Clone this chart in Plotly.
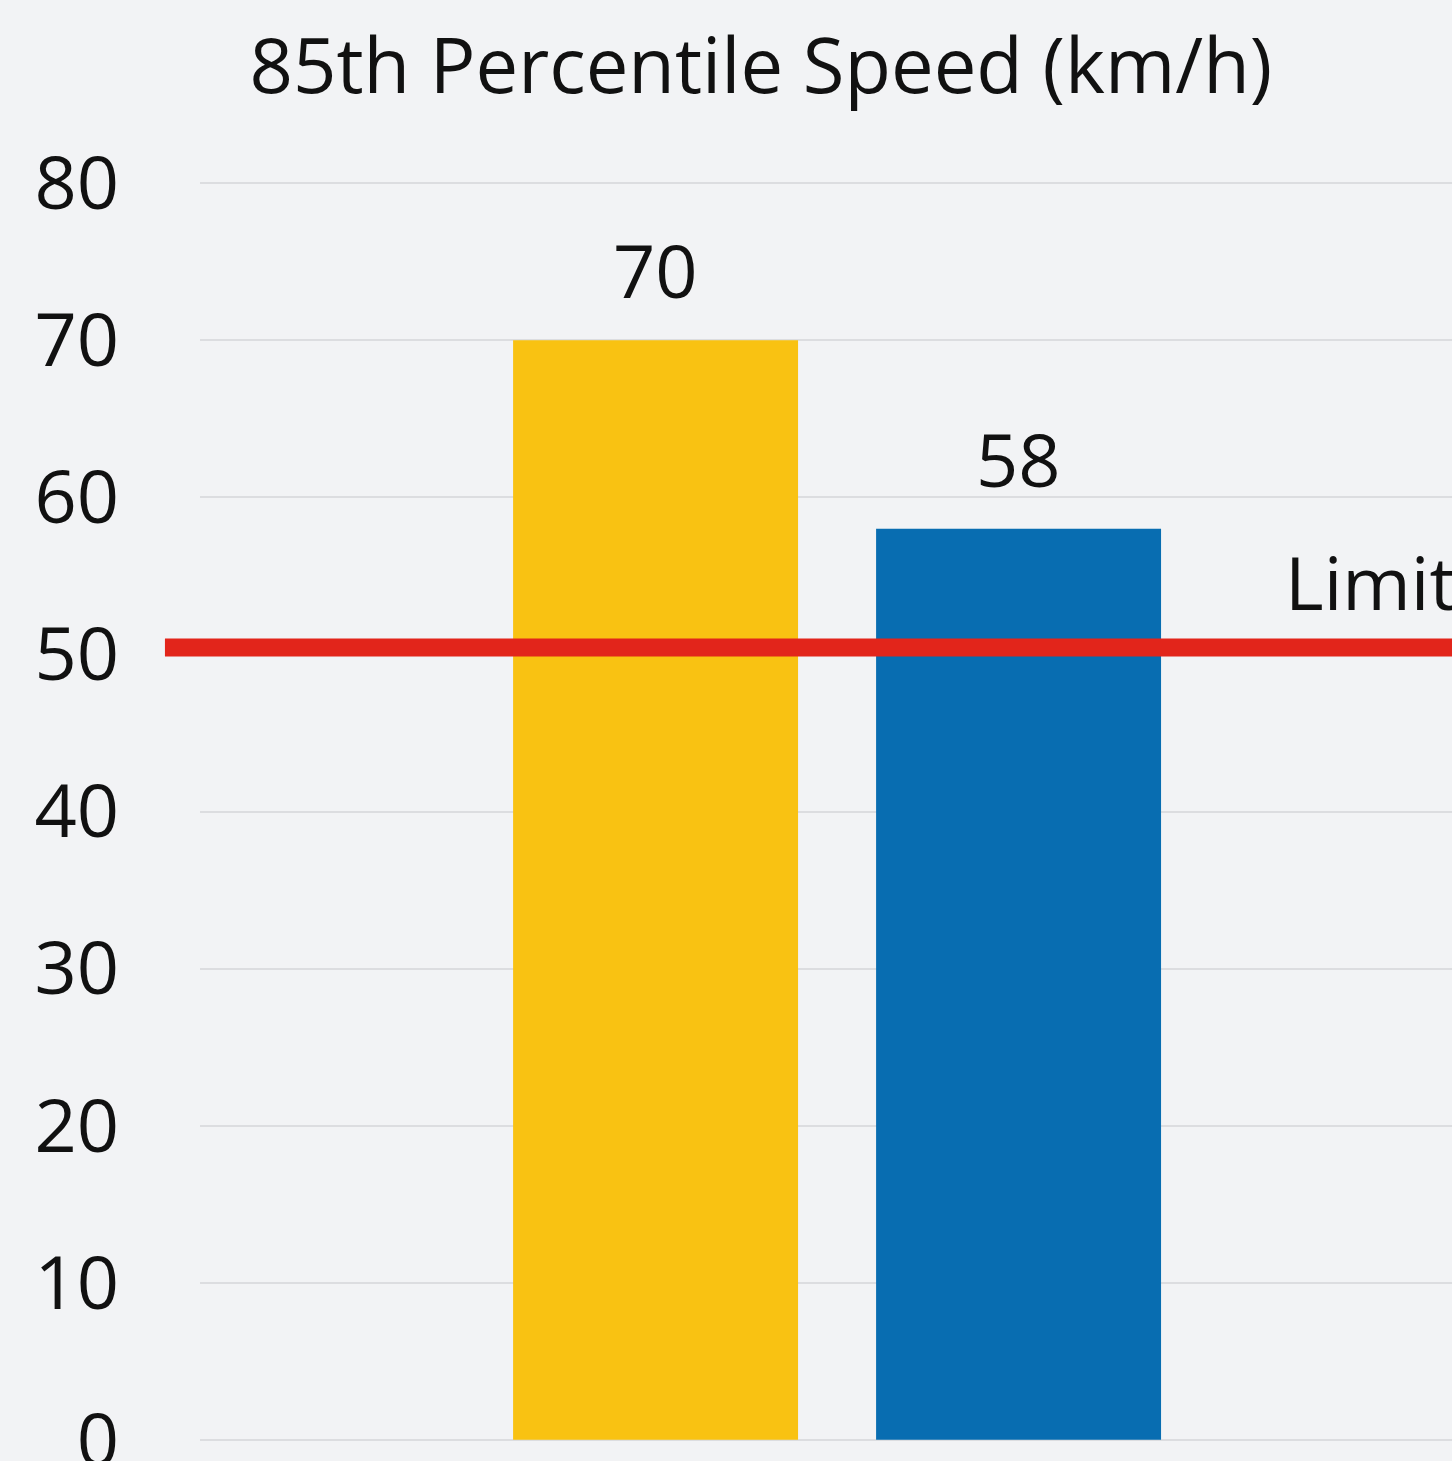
import plotly.graph_objects as go

# Chart data
categories = ["Before", "After"]
speeds = [70, 58]
bar_colors = ["#F9C212", "#086DB1"]
speed_limit = 50
limit_label = "Limit"
title_text = "85th Percentile Speed (km/h)"
y_ticks = [0, 10, 20, 30, 40, 50, 60, 70, 80]

FONT = "Open Sans"
BG = "#F2F3F5"
TEXT = "#111111"

fig = go.Figure()
fig.add_trace(go.Bar(
    x=categories,
    y=speeds,
    marker=dict(color=bar_colors, line=dict(width=0)),
    showlegend=False,
    hoverinfo="skip",
))

# Value labels above the bars
for cat, val in zip(categories, speeds):
    fig.add_annotation(
        x=cat, y=val, text=str(val), showarrow=False,
        yanchor="bottom", yshift=18,
        font=dict(family=FONT, size=74, color=TEXT),
    )

# Speed limit reference band (thick red rule anchored at the limit value)
fig.add_shape(
    type="rect", xref="paper", yref="y",
    x0=-0.028, x1=1.0,
    ysizemode="pixel", yanchor=speed_limit, y0=-2, y1=16,
    fillcolor="#E2251B", line=dict(width=0),
    layer="above",
)
fig.add_annotation(
    xref="paper", yref="y", x=0.865, y=speed_limit,
    text=limit_label, showarrow=False,
    xanchor="left", yanchor="bottom", yshift=20,
    font=dict(family=FONT, size=74, color=TEXT),
)

fig.update_layout(
    width=1452, height=1461,
    margin=dict(l=200, r=0, t=180, b=18, autoexpand=False),
    paper_bgcolor=BG, plot_bgcolor=BG,
    bargap=0.215,
    title=dict(
        text=title_text,
        x=0.524, xanchor="center",
        y=1 - 66 / 1461, yanchor="middle", yref="container",
        font=dict(family=FONT, size=76, color=TEXT),
    ),
)
fig.update_xaxes(
    range=[-1.255, 2.194],
    showticklabels=False, showgrid=False, zeroline=False, showline=False,
    fixedrange=True,
)
fig.update_yaxes(
    range=[-0.2, 80.2],
    tickvals=y_ticks,
    showgrid=True, gridcolor="#DCDDE0", gridwidth=2,
    zeroline=False,
    showline=False,
    automargin=False,
    ticks="", ticklabelstandoff=80,
    ticklabeloverflow="allow",
    tickfont=dict(family=FONT, size=74, color=TEXT),
    fixedrange=True,
)

fig.write_html("out.html")
